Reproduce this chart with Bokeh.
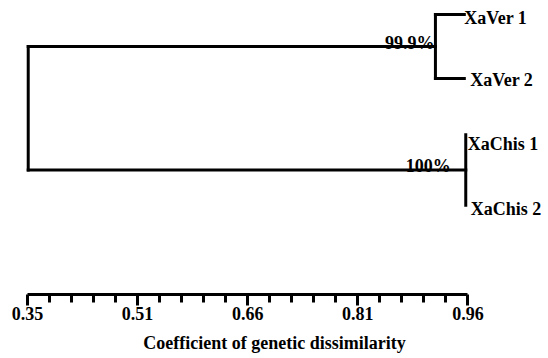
from bokeh.plotting import figure
from bokeh.models import LinearAxis, FixedTicker, Range1d, ColumnDataSource
from bokeh.core.properties import value
from bokeh.embed import file_html
from bokeh.resources import INLINE

# ---- data ----
leaf_names = ["XaVer 1", "XaVer 2", "XaChis 1", "XaChis 2"]
leaf_order = [0.0, 1.0, 1.88, 2.98]          # vertical order of leaves
leaf_dissim = [0.955, 0.955, 0.957, 0.957]   # tip positions
cluster_members = [[0, 1], [2, 3]]
cluster_dissim = [0.915, 0.957]              # merge level of each cluster
cluster_support = ["99.9%", "100%"]
root_dissim = 0.351
tick_values = [0.35, 0.5025, 0.655, 0.8075, 0.96]
tick_labels = ["0.35", "0.51", "0.66", "0.81", "0.96"]
axis_title = "Coefficient of genetic dissimilarity"

FONT = "Liberation Serif"

p = figure(width=548, height=358, output_backend="svg", toolbar_location=None,
           x_axis_type=None, y_axis_type=None,
           x_range=Range1d(0.3126, 1.0716), y_range=Range1d(4.375, -0.21875),
           min_border_left=0, min_border_right=0, min_border_top=0, min_border_bottom=64)
p.outline_line_color = None
p.xgrid.visible = False
p.ygrid.visible = False
p.background_fill_color = "white"
p.border_fill_color = "white"

# ---- build dendrogram segments ----
x0, y0, x1, y1 = [], [], [], []
cluster_mid = []
for members, mx in zip(cluster_members, cluster_dissim):
    ys = [leaf_order[i] for i in members]
    x0.append(mx); y0.append(min(ys)); x1.append(mx); y1.append(max(ys))
    for i in members:
        if leaf_dissim[i] > mx:
            x0.append(mx); y0.append(leaf_order[i]); x1.append(leaf_dissim[i]); y1.append(leaf_order[i])
    cluster_mid.append(sum(ys) / len(ys))
x0.append(root_dissim); y0.append(min(cluster_mid)); x1.append(root_dissim); y1.append(max(cluster_mid))
for mid, mx in zip(cluster_mid, cluster_dissim):
    x0.append(root_dissim); y0.append(mid); x1.append(mx); y1.append(mid)

p.segment(x0=x0, y0=y0, x1=x1, y1=y1, line_color="black", line_width=3, line_cap="square")

# leaf labels
label_dx = [0, 6, 2, 5]
label_dy = [3, 1, 9, 4]
lab_src = ColumnDataSource(dict(x=leaf_dissim, y=leaf_order, text=leaf_names, dx=label_dx, dy=label_dy))
p.text(x="x", y="y", text="text", source=lab_src, x_offset="dx", y_offset="dy",
       text_font=value(FONT), text_font_style="bold", text_font_size="18px",
       text_align="left", text_baseline="middle", text_color="black")

# support labels
sup_dx = [-1, -15]
sup_src = ColumnDataSource(dict(x=cluster_dissim, y=cluster_mid, text=cluster_support, dx=sup_dx))
p.text(x="x", y="y", text="text", source=sup_src, x_offset="dx", y_offset=-4,
       text_font=value(FONT), text_font_style="bold", text_font_size="18px",
       text_align="right", text_baseline="alphabetic", text_color="black")

# ---- axis ----
minor = []
for a, b in zip(tick_values[:-1], tick_values[1:]):
    for k in range(1, 5):
        minor.append(a + (b - a) * k / 5)

ax = LinearAxis(ticker=FixedTicker(ticks=tick_values, minor_ticks=minor),
                bounds=(tick_values[0], tick_values[-1]),
                axis_label=axis_title)
ax.major_label_overrides = {v: t for v, t in zip(tick_values, tick_labels)}
ax.axis_line_width = 3
ax.axis_line_color = "black"
ax.major_tick_line_width = 3
ax.minor_tick_line_width = 3
ax.major_tick_in = 0
ax.major_tick_out = 11
ax.minor_tick_in = 0
ax.minor_tick_out = 8
ax.major_label_standoff = 1
ax.major_label_text_font = FONT
ax.major_label_text_font_style = "bold"
ax.major_label_text_font_size = "18px"
ax.major_label_text_color = "black"
ax.axis_label_standoff = 10
ax.axis_label_text_font = FONT
ax.axis_label_text_font_style = "bold"
ax.axis_label_text_font_size = "18px"
ax.axis_label_text_color = "black"
p.add_layout(ax, "below")

open("out.html", "w").write(file_html(p, INLINE))
